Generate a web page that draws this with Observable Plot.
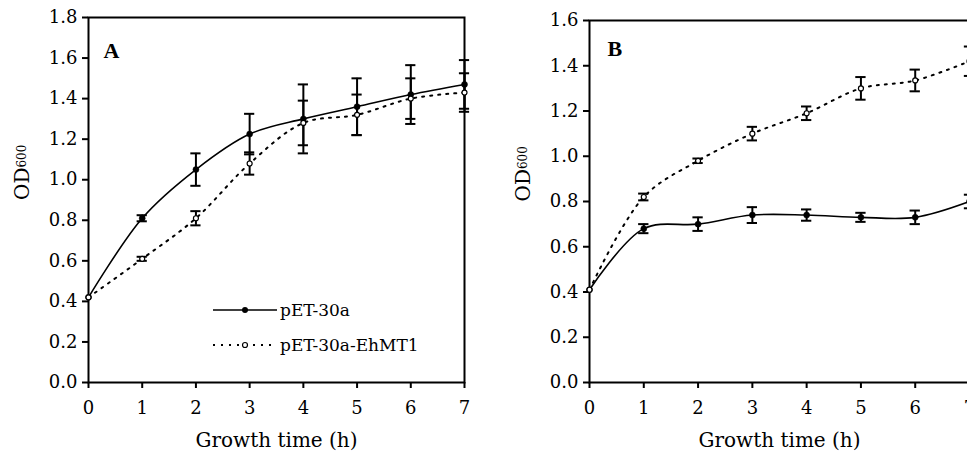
<!DOCTYPE html>
<html><head><meta charset="utf-8">
<script src="https://cdn.jsdelivr.net/npm/d3@7"></script>
<script src="https://cdn.jsdelivr.net/npm/@observablehq/plot@0.6"></script>
<style>
html,body{margin:0;padding:0;background:#fff;overflow:hidden;}
#wrap{position:relative;width:967px;height:455px;overflow:hidden;background:#fff;}
#a,#b{position:absolute;top:0;}
#a{left:0;width:500px;}
#b{left:500px;width:480px;}
#a svg,#b svg{max-width:none !important;display:block;}
#legend{position:absolute;left:213px;top:300px;font-family:"DejaVu Serif",serif;font-size:17px;color:#000;}
.row{display:flex;align-items:center;height:20px;margin-bottom:15px;white-space:nowrap;}
.row svg{display:block;}
.row span{margin-left:3px;}
</style></head><body>
<div id="wrap"><div id="a"></div><div id="b"></div><div id="legend"></div></div>
<script>
// ---- data ----
const hours = [0, 1, 2, 3, 4, 5, 6, 7];
const xTickLabels = ["0", "1", "2", "3", "4", "5", "6", "7"];
const yTicksA = [0, 0.2, 0.4, 0.6, 0.8, 1.0, 1.2, 1.4, 1.6, 1.8];
const yTicksB = [0, 0.2, 0.4, 0.6, 0.8, 1.0, 1.2, 1.4, 1.6];
const seriesNames = ["pET-30a", "pET-30a-EhMT1"];
const panelLetters = ["A", "B"];
const xLabel = "Growth time (h)";
const yLabel = "OD600";

const aControl    = [0.42, 0.81, 1.05, 1.225, 1.30, 1.36, 1.42, 1.47];
const aControlErr = [0, 0.015, 0.08, 0.10, 0.17, 0.14, 0.145, 0.12];
const aEhMT1      = [0.42, 0.61, 0.81, 1.08, 1.28, 1.32, 1.40, 1.43];
const aEhMT1Err   = [0, 0.01, 0.035, 0.055, 0.11, 0.10, 0.10, 0.095];

const bControl    = [0.41, 0.68, 0.70, 0.74, 0.74, 0.73, 0.73, 0.80];
const bControlErr = [0, 0.02, 0.03, 0.035, 0.025, 0.02, 0.03, 0.03];
const bEhMT1      = [0.41, 0.82, 0.98, 1.10, 1.19, 1.30, 1.335, 1.42];
const bEhMT1Err   = [0, 0.015, 0.01, 0.03, 0.03, 0.05, 0.048, 0.065];

// ---- drawing ----
const CAP = 0.095; // half-width of error-bar caps in hours
function rows(vals, errs, name) {
  return hours.map((t, i) => ({t, v: vals[i], e: errs[i], s: name}));
}

function panel({ctrl, ctrlErr, eh, ehErr, yTicks, letter, width, marginLeft, marginRight, marginTop, letterDx, letterDy}) {
  const c = rows(ctrl, ctrlErr, seriesNames[0]);
  const m = rows(eh, ehErr, seriesNames[1]);
  const errRows = c.concat(m).filter(d => d.e > 0);
  const svg = Plot.plot({
    width, height: 455,
    marginLeft, marginRight, marginTop, marginBottom: 73,
    x: {domain: [0, 7]},
    y: {domain: [0, yTicks[yTicks.length - 1]]},
    style: {fontFamily: "DejaVu Serif, serif", fontSize: "18px", color: "black", background: "white", overflow: "visible"},
    marks: [
      Plot.frame({stroke: "black", strokeWidth: 2}),
      Plot.axisY({ticks: yTicks, tickFormat: d => d.toFixed(1), tickSize: 6, tickPadding: 5, strokeWidth: 2, label: null, fontSize: 18}),
      Plot.axisX({ticks: hours, tickFormat: d => xTickLabels[hours.indexOf(d)], tickSize: 6, tickPadding: 13, strokeWidth: 2, label: null, fontSize: 18}),
      Plot.line(c, {x: "t", y: "v", curve: "catmull-rom", stroke: "black", strokeWidth: 1.6}),
      Plot.line(m, {x: "t", y: "v", curve: "catmull-rom", stroke: "black", strokeWidth: 2, strokeDasharray: "2,6"}),
      Plot.ruleX(errRows, {x: "t", y1: d => d.v - d.e, y2: d => d.v + d.e, stroke: "black", strokeWidth: 2}),
      Plot.ruleY(errRows, {y: d => d.v + d.e, x1: d => d.t - CAP, x2: d => d.t + CAP, stroke: "black", strokeWidth: 2}),
      Plot.ruleY(errRows, {y: d => d.v - d.e, x1: d => d.t - CAP, x2: d => d.t + CAP, stroke: "black", strokeWidth: 2}),
      Plot.dot(c, {x: "t", y: "v", r: 3, fill: "black", stroke: "black", strokeWidth: 0.5}),
      Plot.dot(m, {x: "t", y: "v", r: 2.5, fill: "white", stroke: "black", strokeWidth: 1.2}),
      Plot.text([letter], {frameAnchor: "top-left", text: d => d, dx: letterDx, dy: letterDy, textAnchor: "start", lineAnchor: "middle", fontFamily: "Liberation Serif, serif", fontWeight: "bold", fontSize: 22}),
      Plot.text([xLabel], {frameAnchor: "bottom", text: d => d, dy: 58, lineAnchor: "middle", fontSize: 20}),
      Plot.text([yLabel], {frameAnchor: "left", text: d => d, dx: -66, rotate: -90, lineAnchor: "middle", fontSize: 20})
    ]
  });
  svg.querySelectorAll("text").forEach(t => {
    if (t.textContent === yLabel) {
      t.innerHTML = 'OD<tspan font-size="12" dy="-3">600</tspan>';
    }
  });
  return svg;
}

document.getElementById("a").append(panel({
  ctrl: aControl, ctrlErr: aControlErr, eh: aEhMT1, ehErr: aEhMT1Err,
  yTicks: yTicksA, letter: panelLetters[0],
  width: 500, marginLeft: 88, marginRight: 36, marginTop: 17, letterDx: 15, letterDy: 33
}));
document.getElementById("b").append(panel({
  ctrl: bControl, ctrlErr: bControlErr, eh: bEhMT1, ehErr: bEhMT1Err,
  yTicks: yTicksB, letter: panelLetters[1],
  width: 480, marginLeft: 89, marginRight: 11, marginTop: 20, letterDx: 18, letterDy: 28
}));

// legend (inside panel A)
const legend = document.getElementById("legend");
seriesNames.forEach((name, i) => {
  const row = document.createElement("div");
  row.className = "row";
  const dash = i === 0 ? "" : ' stroke-dasharray="2,6"';
  const marker = i === 0
    ? '<circle cx="32" cy="10" r="3" fill="black"/>'
    : '<circle cx="32" cy="10" r="2.5" fill="white" stroke="black" stroke-width="1.2"/>';
  row.innerHTML = `<svg width="64" height="20"><line x1="0" x2="64" y1="10" y2="10" stroke="black" stroke-width="${i === 0 ? 1.6 : 2}"${dash}/>${marker}</svg><span>${name}</span>`;
  legend.append(row);
});
</script>
</body></html>
